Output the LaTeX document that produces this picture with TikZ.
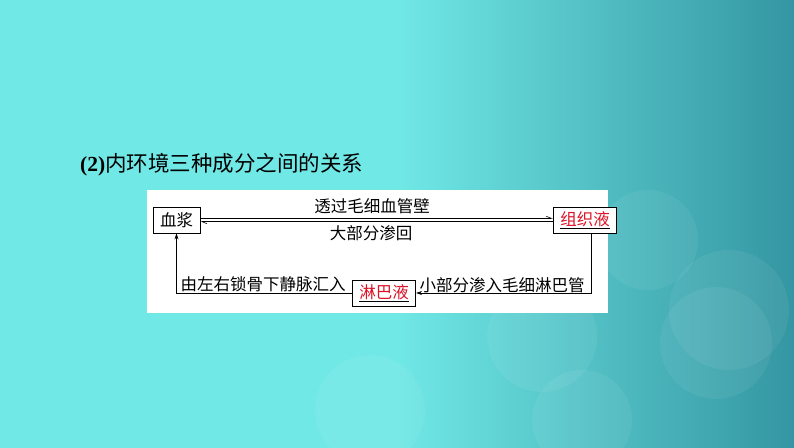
\documentclass[tikz,border=0pt]{standalone}
\usepackage{fontspec}
\setmainfont{Liberation Serif}
\newfontfamily\cjk{Noto Sans CJK SC}
\usetikzlibrary{arrows.meta}
\definecolor{bgLight}{RGB}{112,232,230}
\definecolor{bgDark}{RGB}{52,150,162}
\definecolor{liquidred}{RGB}{222,18,38}
\pgfdeclarehorizontalshading{bgshade}{100bp}{color(0bp)=(bgLight); color(50bp)=(bgLight); color(75bp)=(bgDark); color(100bp)=(bgDark)}
\tikzset{every node/.style={inner sep=0pt},
  box/.style={draw, line width=0.8pt, fill=white, minimum height=26pt, inner xsep=7pt, font=\cjk\fontsize{16.5}{16.5}\selectfont},
  lab/.style={font=\cjk\fontsize{16.5}{16.5}\selectfont},
  link/.style={line width=0.6pt, -{Stealth[length=6pt,width=4pt]}},
  harp/.style={line width=0.6pt, -{Straight Barb[left,length=5pt,width=4pt]}}}

\begin{document}
\begin{tikzpicture}[x=1pt,y=-1pt]
  \useasboundingbox (0,0) rectangle (794,447);
  % background
  \shade[shading=bgshade] (0,0) rectangle (794,447);
  \foreach \cx/\cy/\r in {716/343/56, 729/310/60, 542/337/55, 370/410/55, 582/420/50, 648/240/50} {
    \fill[white,opacity=0.06] (\cx,\cy) circle (\r);
  }
  % title
  \node[anchor=west, font=\fontsize{21.5}{21.5}\selectfont] (title) at (80,165)
    {\textbf{(2)}\cjk 内环境三种成分之间的关系};
  % panel
  \fill[white] (147,190) rectangle (608,313);
  \node[box] (plasma) at (176.5,220) {血浆};
  \node[box] (tissue) at (585,220) {\color{black}\underline{\textcolor{liquidred}{组织液}}};
  \node[box] (lymph) at (384,293) {\color{black}\underline{\textcolor{liquidred}{淋巴液}}};
  % exchange between plasma and tissue fluid
  \draw[harp] ([yshift=1.7pt]plasma.east) -- ([yshift=1.7pt]tissue.west);
  \draw[harp] ([yshift=-1.7pt]tissue.west) -- ([yshift=-1.7pt]plasma.east);
  \node[lab] (through) at (372,206) {透过毛细血管壁};
  \node[lab] (back) at (371,233) {大部分渗回};
  % lymph loop
  \draw[link] ([xshift=6pt]tissue.south) |- (lymph.east);
  \draw[link] (lymph.west) -| (plasma.south);
  \node[lab] (into) at (502,285) {小部分渗入毛细淋巴管};
  \node[lab] (return) at (263,284) {由左右锁骨下静脉汇入};
\end{tikzpicture}
\end{document}
